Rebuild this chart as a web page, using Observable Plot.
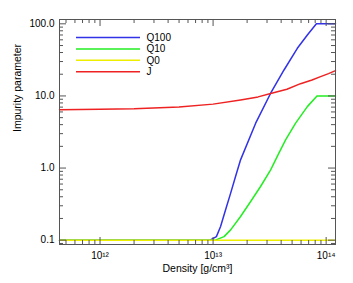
<!DOCTYPE html>
<html>
<head>
<meta charset="utf-8">
<script src="https://cdn.jsdelivr.net/npm/d3@7"></script>
<script src="https://cdn.jsdelivr.net/npm/@observablehq/plot@0.6"></script>
<style>
  html, body { margin: 0; padding: 0; background: #fff; }
  #chart { position: relative; width: 353px; height: 283px; }
  svg { font-family: "Liberation Sans", Arial, Helvetica, sans-serif; }
</style>
</head>
<body>
<div id="chart"></div>
<script>
// ---- Data ----
const q100Density = [4.38e11, 9.4e12, 1.07e13, 1.165e13, 1.29e13, 1.43e13, 1.58e13, 1.75e13, 2.38e13, 3.23e13, 4.24e13, 5.56e13, 6.82e13, 8.2e13, 1.21e14];
const q100Value   = [0.1, 0.1, 0.112, 0.155, 0.264, 0.449, 0.762, 1.30, 4.19, 10.9, 22.9, 45.8, 70, 100, 100];

const q10Density = [4.38e11, 1.05e13, 1.25e13, 1.43e13, 1.75e13, 2.15e13, 2.63e13, 3.23e13, 3.82e13, 4.38e13, 5.37e13, 6.82e13, 8.3e13, 1.21e14];
const q10Value   = [0.1, 0.1, 0.112, 0.139, 0.213, 0.344, 0.555, 0.944, 1.61, 2.46, 4.19, 7.11, 10, 10];

const q0Density = [4.38e11, 1e12, 1e13, 1e14, 1.21e14];
const q0Value   = [0.1, 0.1, 0.1, 0.1, 0.1];

const jDensity = [4.38e11, 1e12, 2e12, 5e12, 1e13, 1.75e13, 2.5e13, 3.23e13, 4.5e13, 5.94e13, 7.5e13, 8.93e13, 1.05e14, 1.21e14];
const jValue   = [6.45, 6.52, 6.65, 7.05, 7.7, 8.8, 9.7, 10.8, 12.4, 14.8, 16.6, 18.5, 20.4, 22.4];

const seriesNames  = ["Q100", "Q10", "Q0", "J"];
const seriesColors = ["#3232e6", "#22ee22", "#eeee00", "#ee2222"];

const xMajorTicks = [1e12, 1e13, 1e14];
const xTickLabels = ["10¹²", "10¹³", "10¹⁴"];
const yMajorTicks = [0.1, 1, 10, 100];
const yTickLabels = ["0.1", "1.0", "10.0", "100.0"];

const xDomain = [4.38e11, 1.21e14];
const yDomain = [0.0871, 114.8];

// ---- Build tables ----
const toRows = (xv, yv, name) => xv.map((x, i) => ({density: x, value: yv[i], series: name}));
const rows = [
  toRows(q100Density, q100Value, "Q100"),
  toRows(q10Density, q10Value, "Q10"),
  toRows(q0Density, q0Value, "Q0"),
  toRows(jDensity, jValue, "J")
];

function minorTicks(domain) {
  const out = [];
  const lo = Math.floor(Math.log10(domain[0])), hi = Math.ceil(Math.log10(domain[1]));
  for (let e = lo; e <= hi; e++) {
    for (let m = 2; m <= 9; m++) {
      const v = m * Math.pow(10, e);
      if (v > domain[0] && v < domain[1]) out.push(v);
    }
  }
  return out;
}
const xMinor = minorTicks(xDomain);
const yMinor = minorTicks(yDomain);

const W = 353, H = 283;
const mL = 59, mR = 18, mT = 19, mB = 39;
const innerW = W - mL - mR, innerH = H - mT - mB;
const majorLen = 7, minorLen = 4;
const axisColor = "#555";

const marks = [];
rows.forEach((r, i) => {
  marks.push(Plot.line(r, {x: "density", y: "value", stroke: seriesColors[i], strokeWidth: 1.5}));
});
const tk = {stroke: axisColor, strokeWidth: 1};
marks.push(
  // inward tick marks, mirrored on all four sides
  Plot.tickX(xMajorTicks, {x: d => d, insetTop: innerH - majorLen, ...tk}),
  Plot.tickX(xMajorTicks, {x: d => d, insetBottom: innerH - majorLen, ...tk}),
  Plot.tickX(xMinor, {x: d => d, insetTop: innerH - minorLen, ...tk}),
  Plot.tickX(xMinor, {x: d => d, insetBottom: innerH - minorLen, ...tk}),
  Plot.tickY(yMajorTicks, {y: d => d, insetRight: innerW - majorLen, ...tk}),
  Plot.tickY(yMajorTicks, {y: d => d, insetLeft: innerW - majorLen, ...tk}),
  Plot.tickY(yMinor, {y: d => d, insetRight: innerW - minorLen, ...tk}),
  Plot.tickY(yMinor, {y: d => d, insetLeft: innerW - minorLen, ...tk}),
  Plot.frame({stroke: axisColor}),
  Plot.axisX(xMajorTicks, {anchor: "bottom", tickSize: 0, tickPadding: 7, fontSize: 10, fill: "#000",
    tickFormat: d => xTickLabels[xMajorTicks.indexOf(d)], label: null}),
  Plot.axisY(yMajorTicks, {anchor: "left", tickSize: 0, tickPadding: 5, fontSize: 10, fill: "#000",
    tickFormat: d => yTickLabels[yMajorTicks.indexOf(d)], label: null}),
  Plot.text(["Density [g/cm³]"], {frameAnchor: "bottom", dy: 24, fontSize: 10.5, fill: "#000", lineAnchor: "middle"}),
  Plot.text(["Impurity parameter"], {frameAnchor: "left", dx: -42, rotate: -90, fontSize: 10.5, fill: "#000", lineAnchor: "middle"})
);

const chartSvg = Plot.plot({
  width: W, height: H,
  marginLeft: mL, marginRight: mR, marginTop: mT, marginBottom: mB,
  x: {type: "log", domain: xDomain, axis: null},
  y: {type: "log", domain: yDomain, axis: null},
  style: {fontFamily: "'Liberation Sans', Arial, Helvetica, sans-serif", background: "#fff"},
  marks
});
document.getElementById("chart").appendChild(chartSvg);

// ---- Legend (inside the plot, top-left) ----
const lg = d3.select(chartSvg).append("g").attr("transform", "translate(76,37.5)");
seriesNames.forEach((name, i) => {
  const g = lg.append("g").attr("transform", `translate(0,${i * 11.4})`);
  g.append("line").attr("x1", 0).attr("x2", 64).attr("y1", 0).attr("y2", 0)
    .attr("stroke", seriesColors[i]).attr("stroke-width", 1.5);
  g.append("text").attr("x", 70.5).attr("y", 0).attr("dy", "0.35em")
    .attr("text-anchor", "start")
    .attr("font-size", 10).attr("fill", "#000").text(name);
});
</script>
</body>
</html>
